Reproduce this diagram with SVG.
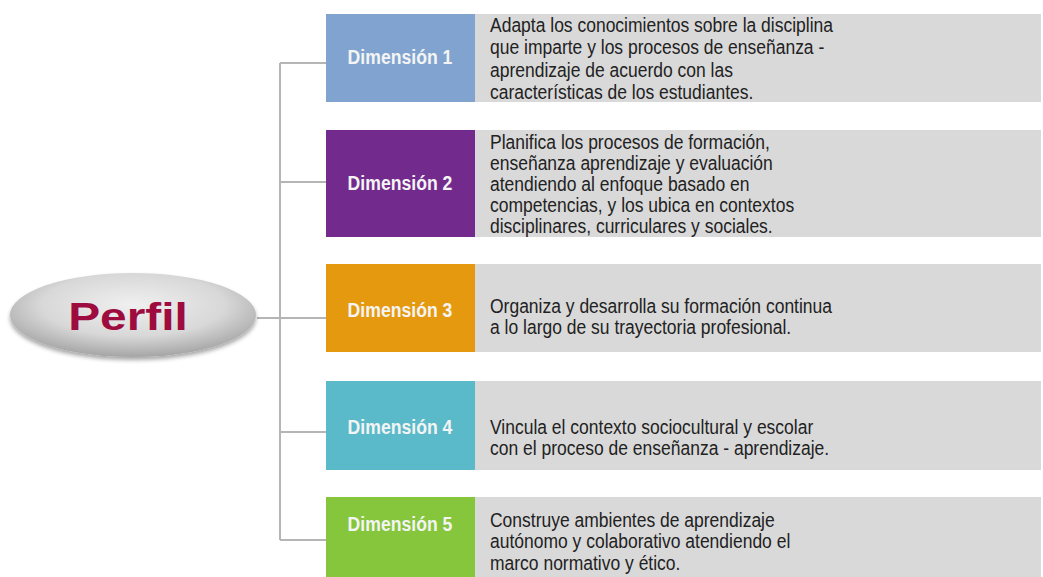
<svg xmlns="http://www.w3.org/2000/svg" width="1043" height="577" viewBox="0 0 1043 577">
<defs>
<radialGradient id="eg" cx="50%" cy="38%" r="62%">
<stop offset="0" stop-color="#f0f0f0"/>
<stop offset="0.6" stop-color="#d8d8d8"/>
<stop offset="1" stop-color="#a5a5a5"/>
</radialGradient>
<filter id="sh" x="-10%" y="-20%" width="120%" height="150%">
<feGaussianBlur in="SourceAlpha" stdDeviation="2"/>
<feOffset dx="0" dy="3"/>
<feComponentTransfer><feFuncA type="linear" slope="0.35"/></feComponentTransfer>
<feMerge><feMergeNode/><feMergeNode in="SourceGraphic"/></feMerge>
</filter>
</defs>
<style>
.lbl{font-family:"Liberation Sans",Arial,sans-serif;font-weight:bold;font-size:20.5px;fill:#f4f4f4;text-anchor:middle}
.desc{font-family:"Liberation Sans",Arial,sans-serif;font-size:21px;fill:#222}
.gray{fill:#d9d9d9}
.conn{stroke:#b5b5b5;stroke-width:2;fill:none}
</style>
<rect width="1043" height="577" fill="#ffffff"/>
<g id="connectors">
<path class="conn" d="M280 63 V540 M280 63 H326 M280 182 H326 M257 318 H326 M280 432 H326 M280 540 H326"/>
</g>
<g id="perfil">
<ellipse cx="133" cy="315" rx="123" ry="42" fill="url(#eg)" filter="url(#sh)"/>
<g transform="translate(128 0) scale(1.26 1)"><text x="0" y="330" font-family="'Liberation Sans',Arial,sans-serif" font-weight="bold" font-size="38" fill="#9e0b3e" text-anchor="middle">Perfil</text></g>
</g>
<g id="dim1">
<rect x="475" y="14" width="566" height="88" class="gray"/>
<rect x="326" y="14" width="149" height="88" fill="#80a4cf"/>
<g transform="translate(400 0) scale(0.86 1)"><text class="lbl" x="0" y="64">Dimensión 1</text></g>
<g transform="translate(490 0) scale(0.833 1)">
<text class="desc" x="0" y="32">Adapta los conocimientos sobre la disciplina</text>
<text class="desc" x="0" y="54.5">que imparte y los procesos de enseñanza -</text>
<text class="desc" x="0" y="77">aprendizaje de acuerdo con las</text>
<text class="desc" x="0" y="99">características de los estudiantes.</text>
</g>
</g>
<g id="dim2">
<rect x="475" y="130" width="566" height="107" class="gray"/>
<rect x="326" y="130" width="149" height="107" fill="#722b8c"/>
<g transform="translate(400 0) scale(0.86 1)"><text class="lbl" x="0" y="190">Dimensión 2</text></g>
<g transform="translate(490 0) scale(0.833 1)">
<text class="desc" x="0" y="149">Planifica los procesos de formación,</text>
<text class="desc" x="0" y="170">enseñanza aprendizaje y evaluación</text>
<text class="desc" x="0" y="191">atendiendo al enfoque basado en</text>
<text class="desc" x="0" y="212">competencias, y los ubica en contextos</text>
<text class="desc" x="0" y="233.5">disciplinares, curriculares y sociales.</text>
</g>
</g>
<g id="dim3">
<rect x="475" y="264" width="566" height="88" class="gray"/>
<rect x="326" y="264" width="149" height="88" fill="#e5990f"/>
<g transform="translate(400 0) scale(0.86 1)"><text class="lbl" x="0" y="317">Dimensión 3</text></g>
<g transform="translate(490 0) scale(0.833 1)">
<text class="desc" x="0" y="313.5">Organiza y desarrolla su formación continua</text>
<text class="desc" x="0" y="334.5">a lo largo de su trayectoria profesional.</text>
</g>
</g>
<g id="dim4">
<rect x="475" y="381" width="566" height="89" class="gray"/>
<rect x="326" y="381" width="149" height="89" fill="#5bbac9"/>
<g transform="translate(400 0) scale(0.86 1)"><text class="lbl" x="0" y="434">Dimensión 4</text></g>
<g transform="translate(490 0) scale(0.833 1)">
<text class="desc" x="0" y="434">Vincula el contexto sociocultural y escolar</text>
<text class="desc" x="0" y="455">con el proceso de enseñanza - aprendizaje.</text>
</g>
</g>
<g id="dim5">
<rect x="475" y="497" width="566" height="80" class="gray"/>
<rect x="326" y="497" width="149" height="80" fill="#85c63d"/>
<g transform="translate(400 0) scale(0.86 1)"><text class="lbl" x="0" y="531">Dimensión 5</text></g>
<g transform="translate(490 0) scale(0.833 1)">
<text class="desc" x="0" y="527">Construye ambientes de aprendizaje</text>
<text class="desc" x="0" y="548.5">autónomo y colaborativo atendiendo el</text>
<text class="desc" x="0" y="570">marco normativo y ético.</text>
</g>
</g>
</svg>
